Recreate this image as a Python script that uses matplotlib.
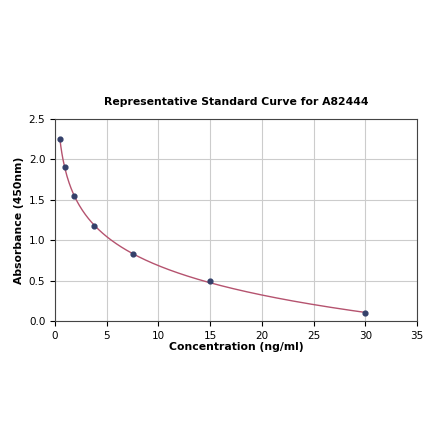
import numpy as np
import matplotlib
matplotlib.use('Agg')
import matplotlib.pyplot as plt

# standard points
conc = [0.47, 0.94, 1.875, 3.75, 7.5, 15, 30]
absorb = [2.25, 1.91, 1.55, 1.18, 0.83, 0.49, 0.10]

# smooth fit curve (cubic in log concentration)
coef = np.polyfit(np.log(conc), absorb, 3)
xs = np.linspace(min(conc), max(conc), 300)
ys = np.polyval(coef, np.log(xs))

fig = plt.figure(figsize=(4.4, 4.41), dpi=100)
ax = fig.add_axes([0.125, 0.272, 0.823, 0.458])

ax.plot(xs, ys, color='#b5536f', lw=1.0, zorder=2)
ax.scatter(conc, absorb, s=12, color='#34406a', zorder=3)

ax.set_xlim(0, 35)
ax.set_ylim(0, 2.5)
ax.set_xticks(range(0, 36, 5))
ax.set_yticks([0, 0.5, 1.0, 1.5, 2.0, 2.5])
ax.grid(True, color='#cccccc', lw=0.8)
ax.set_axisbelow(True)
ax.tick_params(labelsize=7.5)
for s in ax.spines.values():
    s.set_color('#444444')

ax.set_title('Representative Standard Curve for A82444', fontsize=7.8, fontweight='bold', pad=10)
ax.set_xlabel('Concentration (ng/ml)', fontsize=7.8, fontweight='bold', labelpad=1)
ax.set_ylabel('Absorbance (450nm)', fontsize=7.8, fontweight='bold', labelpad=3)

fig.savefig('out.png', dpi=100)
